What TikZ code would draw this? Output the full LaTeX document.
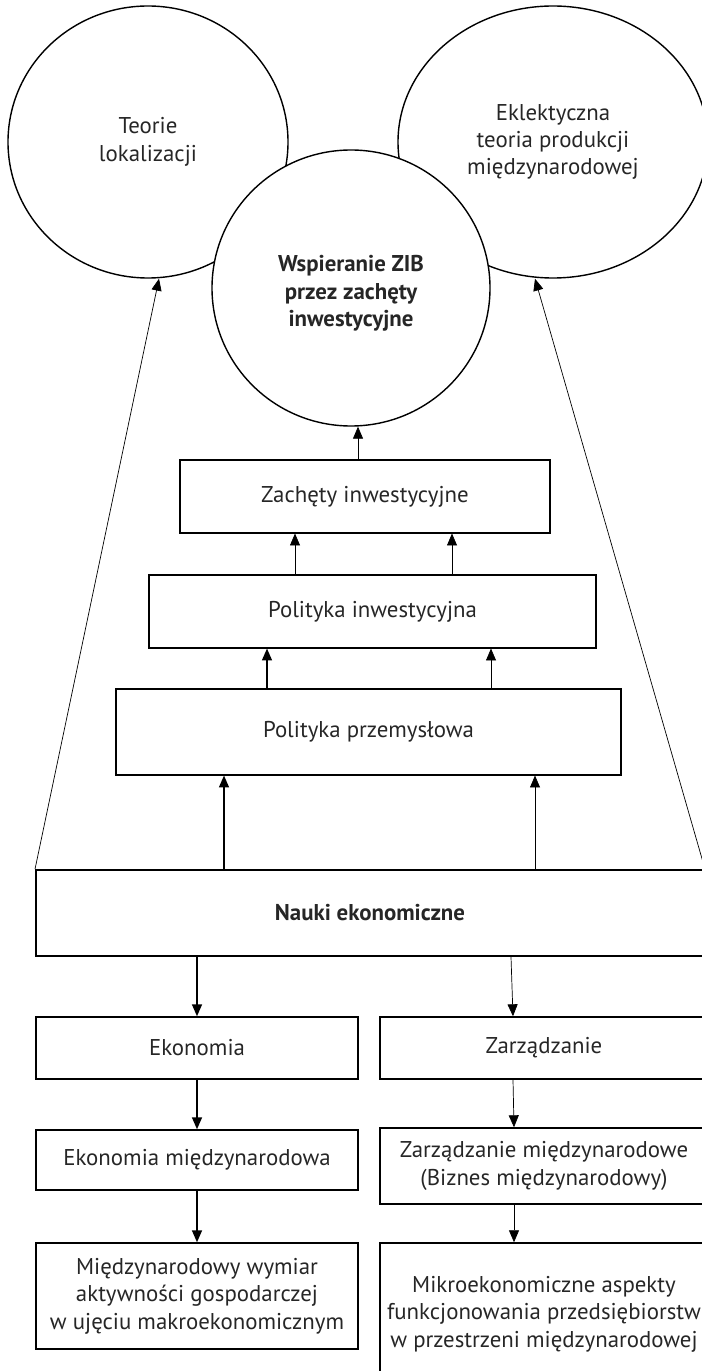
\documentclass[tikz,border=0pt]{standalone}
\usepackage{fontspec}
\setmainfont{PT Sans}
\usepackage{tikz}
\usetikzlibrary{arrows.meta, shapes.geometric, positioning}
\tikzset{>={Triangle[width=5.7pt,length=6.8pt]}}
\newcommand{\pu}{0.02cm}

\begin{document}
\begin{tikzpicture}[x=\pu, y=-\pu,
	txt/.style={font=\fontsize{13}{15.6}\selectfont, align=center, text=black!85},
	oval/.style={txt, draw, ellipse, line width=0.8pt, inner sep=0pt},
	box/.style={txt, draw, rectangle, inner sep=0pt, line width=0.6pt},
	lbox/.style={box, line width=0.85pt},
	thin/.style={->, line width=0.4pt},
	thk/.style={->, line width=0.8pt}]
		\useasboundingbox (0,0) rectangle (702,1371);
		\clip (0,0) rectangle (702,1371);
		\node[oval, minimum width=280*\pu, minimum height=272*\pu] (lok) at (148,142) {Teorie\\lokalizacji};
		\node[oval, minimum width=310*\pu, minimum height=272*\pu] (ekl) at (553,142) {Eklektyczna\\teoria produkcji\\międzynarodowej};
		\node[oval, fill=white, minimum width=278*\pu, minimum height=276*\pu, font=\fontsize{13}{15.6}\selectfont\bfseries] (zib) at (351,288) {\\Wspieranie ZIB\\przez zachęty\\inwestycyjne};
		\node[box, minimum width=370*\pu, minimum height=73*\pu] (zach) at (365,496.5) {Zachęty inwestycyjne};
		\node[box, minimum width=447*\pu, minimum height=73*\pu] (pinw) at (372.5,611.5) {Polityka inwestycyjna};
		\node[box, minimum width=505*\pu, minimum height=86*\pu] (pprz) at (368.5,732) {Polityka przemysłowa};
		\node[box, line width=1.1pt, minimum width=668*\pu, minimum height=86*\pu, font=\fontsize{13}{15.6}\selectfont\bfseries] (nauki) at (370,913) {Nauki ekonomiczne};
		\node[lbox, minimum width=322*\pu, minimum height=62*\pu] (ekon) at (197,1048) {Ekonomia};
		\node[lbox, minimum width=328*\pu, minimum height=62*\pu] (zarz) at (544,1048) {Zarządzanie};
		\node[lbox, minimum width=322*\pu, minimum height=60*\pu] (ekm) at (197,1160) {Ekonomia międzynarodowa};
		\node[lbox, minimum width=328*\pu, minimum height=76*\pu] (zam) at (544,1166) {Zarządzanie międzynarodowe\\(Biznes międzynarodowy)};
		\node[lbox, minimum width=322*\pu, minimum height=106*\pu] (makro) at (197,1296) {Międzynarodowy wymiar\\aktywności gospodarczej\\w ujęciu makroekonomicznym};
		\node[lbox, minimum width=328*\pu, minimum height=142*\pu] (mikro) at (544,1314) {Mikroekonomiczne aspekty\\funkcjonowania przedsiębiorstw\\w przestrzeni międzynarodowej};
		\draw [thin](zach.north -| 358,0)--(zib.south -| 358,0);
		\draw [thin](pinw.north -| 295,0)--(zach.south -| 295,0);
		\draw [thin](pinw.north -| 452,0)--(zach.south -| 452,0);
		\draw [thk](pprz.north -| 267,0)--(pinw.south -| 267,0);
		\draw [thin](pprz.north -| 491,0)--(pinw.south -| 491,0);
		\draw [thk](nauki.north -| 224,0)--(pprz.south -| 224,0);
		\draw [thin](nauki.north -| 535,0)--(pprz.south -| 535,0);
		\draw [thin](nauki.north west)--(lok.south -| 159,0);
		\draw [thin](nauki.north east)--(ekl.south -| 535,0);
		\draw [thk](nauki.south -| 197,0)--(ekon.north);
		\draw [thin](nauki.south -| 511,0)--(zarz.north -| 513,0);
		\draw [thk](ekon.south)--(ekm.north);
		\draw [thin](zarz.south -| 513,0)--(zam.north -| 514,0);
		\draw [thk](ekm.south)--(makro.north);
		\draw [thin](zam.south -| 514,0)--(mikro.north -| 514,0);
\end{tikzpicture}
\end{document}
